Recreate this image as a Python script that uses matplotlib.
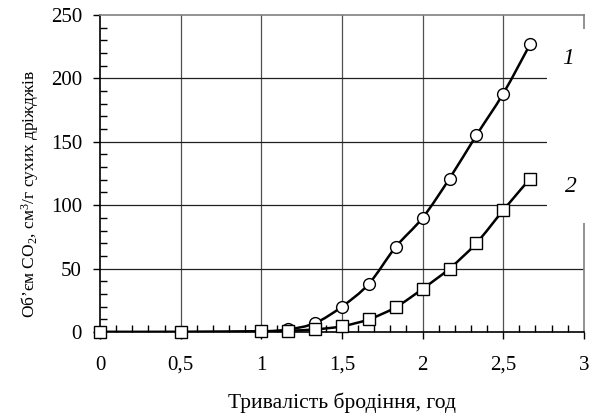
import matplotlib
matplotlib.use("Agg")
import matplotlib.pyplot as plt
from matplotlib.path import Path
from matplotlib.patches import PathPatch, Rectangle
from matplotlib.ticker import MultipleLocator, FuncFormatter

plt.rcParams['font.family'] = ['Liberation Serif', 'DejaVu Serif']
plt.rcParams['mathtext.fontset'] = 'custom'
plt.rcParams['mathtext.rm'] = 'Liberation Serif'
plt.rcParams['mathtext.it'] = 'Liberation Serif:italic'

# data
hours = [0, 0.5, 1, 1.167, 1.333, 1.5, 1.667, 1.833, 2, 2.167, 2.333, 2.5, 2.667]
co2_1 = [0, 0, 0.5, 2, 7, 20, 38, 67, 90, 121, 155, 188, 227]
co2_2 = [0, 0, 0.5, 1, 2, 4.5, 10, 19.5, 34, 50, 70, 96, 121]
curve_labels = ["1", "2"]


# smoothed line like the spreadsheet one (cubic bezier through the points)
def smooth_path(xs, ys):
    n = len(xs)
    verts = [(xs[0], ys[0])]
    codes = [Path.MOVETO]
    for i in range(n - 1):
        x0, y0 = (xs[i - 1], ys[i - 1]) if i > 0 else (xs[i], ys[i])
        x3, y3 = (xs[i + 2], ys[i + 2]) if i + 2 < n else (xs[i + 1], ys[i + 1])
        c1 = (xs[i] + (xs[i + 1] - x0) / 6, ys[i] + (ys[i + 1] - y0) / 6)
        c2 = (xs[i + 1] - (x3 - xs[i]) / 6, ys[i + 1] - (y3 - ys[i]) / 6)
        verts += [c1, c2, (xs[i + 1], ys[i + 1])]
        codes += [Path.CURVE4] * 3
    return Path(verts, codes)


fig = plt.figure(figsize=(5.97, 4.16), dpi=100)
ax = fig.add_axes([0.1675, 0.202, 0.8105, 0.762])
ax.set_xlim(0, 3)
ax.set_ylim(0, 250)

# grid
for gx in [0.5, 1, 1.5, 2, 2.5]:
    ax.plot([gx, gx], [0, 250], color='#505050', lw=0.9, zorder=1)
for gy in [50, 100, 150, 200]:
    ax.plot([0, 3], [gy, gy], color='#202020', lw=0.9, zorder=1)

for ys in [co2_1, co2_2]:
    ax.add_patch(PathPatch(smooth_path(hours, ys), fill=False, lw=1.8,
                           edgecolor='black', zorder=3))
ax.plot(hours, co2_1, 'o', ms=8.5, mfc='white', mec='black', mew=1.0, zorder=4,
        clip_on=False)
ax.plot(hours, co2_2, 's', ms=8.5, mfc='white', mec='black', mew=1.0, zorder=5,
        clip_on=False)

# white box where the curve numbers sit
ax.add_patch(Rectangle((2.77, 86), 0.3, 153, facecolor='white', edgecolor='none',
                       zorder=6, clip_on=False))
ax.text(2.9, 216, curve_labels[0], fontsize=17, style='italic', ha='center',
        va='center', zorder=7)
ax.text(2.92, 115, curve_labels[1], fontsize=17, style='italic', ha='center',
        va='center', zorder=7)

for s in ['top', 'right']:
    ax.spines[s].set_color('#808080')
    ax.spines[s].set_linewidth(1.2)
for s in ['left', 'bottom']:
    ax.spines[s].set_linewidth(1.2)

ax.xaxis.set_major_locator(MultipleLocator(0.5))
ax.xaxis.set_minor_locator(MultipleLocator(0.1))
ax.yaxis.set_major_locator(MultipleLocator(50))
ax.yaxis.set_minor_locator(MultipleLocator(10))
ax.xaxis.set_major_formatter(FuncFormatter(lambda v, p: ('%g' % v).replace('.', ',')))
ax.tick_params(axis='both', which='major', direction='out', length=5, width=1,
               labelsize=15, pad=8)
ax.tick_params(axis='both', which='minor', direction='in', length=5, width=1)
ax.tick_params(axis='x', which='major', pad=12)

ax.set_xlabel('Тривалість бродіння, год', fontsize=15.5, labelpad=13)
ax.set_ylabel('Об’єм CO$_2$, см$^3$/г сухих дріжджів', fontsize=12.5)
ax.yaxis.set_label_coords(-0.122, 0.435)

fig.savefig('out.png', dpi=100)
